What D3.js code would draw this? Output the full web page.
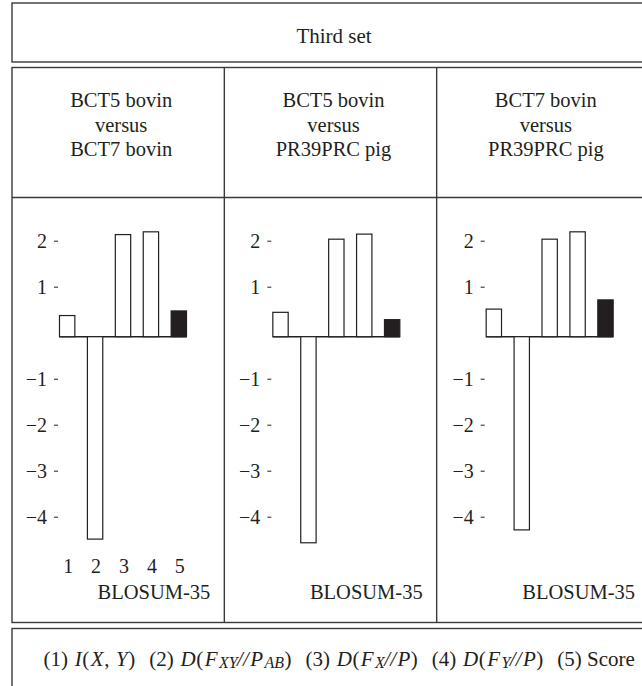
<!DOCTYPE html>
<html lang="en">
	<head>
		<meta charset="utf-8">
		<title>Third set</title>
		<script type="text/javascript" src="https://cdn.jsdelivr.net/npm/d3@7"></script>
		<style type="text/css">
			body { margin: 0; background: #fff; }
			.frame { fill: none; stroke: #3a3a3a; stroke-width: 1.4; }
			.axis path { display: none; }
			.axis line { stroke: #231f20; stroke-width: 1; }
		</style>
	</head>
	<body>
		<script type="text/javascript">

			// data
			var title = "Third set";
			var pairTitles = [
				["BCT5 bovin", "versus", "BCT7 bovin"],
				["BCT5 bovin", "versus", "PR39PRC pig"],
				["BCT7 bovin", "versus", "PR39PRC pig"]
			];
			var matrixName = "BLOSUM-35";
			var measures = ["1", "2", "3", "4", "5"];
			var valuesPair1 = [0.46, -4.40, 2.22, 2.28, 0.56];
			var valuesPair2 = [0.53, -4.48, 2.12, 2.23, 0.37];
			var valuesPair3 = [0.60, -4.20, 2.12, 2.28, 0.80];
			var yTicks = [-4, -3, -2, -1, 1, 2];
			var allValues = [valuesPair1, valuesPair2, valuesPair3];

			var serif = "'Liberation Serif', 'Times New Roman', Times, 'DejaVu Serif', serif";
			var ink = "#231f20";
			var fs = "20.5px";

			var w = 642;
			var h = 686;
			var left = 12;        // left border of the table
			var right = 649;      // table runs a little past the picture
			var colW = (right - left) / 3;

			var svg = d3.select("body")
						.append("svg")
						.attr("width", w)
						.attr("height", h);

			// boxes of the table
			svg.append("rect").attr("class", "frame")
				.attr("x", left).attr("y", 3).attr("width", right - left).attr("height", 59);
			svg.append("rect").attr("class", "frame")
				.attr("x", left).attr("y", 67.5).attr("width", right - left).attr("height", 555);
			svg.append("rect").attr("class", "frame")
				.attr("x", left).attr("y", 628.5).attr("width", right - left).attr("height", 80);
			svg.append("line").attr("class", "frame")
				.attr("x1", left).attr("x2", right).attr("y1", 197.5).attr("y2", 197.5);
			[1, 2].forEach(function(i){
				svg.append("line").attr("class", "frame")
					.attr("x1", left + i * colW).attr("x2", left + i * colW)
					.attr("y1", 67.5).attr("y2", 622.5);
			});

			svg.append("text")
				.attr("x", 334).attr("y", 42.5)
				.attr("text-anchor", "middle")
				.style("font-family", serif)
				.style("fill", ink)
				.style("font-size", "21px")
				.text(title);

			// one shared y scale: zero sits on the bar baseline
			var yScale = d3.scaleLinear()
							.domain([-5, 3])
							.range([336.7 + 5 * 46, 336.7 - 3 * 46]);

			allValues.forEach(function(vals, p){
				var x0 = left + p * colW;

				// pair title
				var head = svg.append("text")
					.attr("text-anchor", "middle")
					.style("font-family", serif)
					.style("fill", ink)
					.style("font-size", fs);
				head.selectAll("tspan")
					.data(pairTitles[p])
					.enter()
					.append("tspan")
					.attr("x", x0 + colW / 2 + 3)
					.attr("y", function(d, i){ return 107 + i * 24.5; })
					.text(function(d){ return d; });

				var xScale = d3.scaleBand()
								.domain(measures)
								.range([x0 + 47.5 + p, x0 + 174.5 + p])
								.paddingInner(0.45)
								.paddingOuter(0);

				var g = svg.append("g");

				// baseline
				g.append("line")
					.attr("x1", xScale.range()[0]).attr("x2", xScale.range()[1])
					.attr("y1", yScale(0)).attr("y2", yScale(0))
					.style("stroke", ink).style("stroke-width", 1.5);

				g.selectAll("rect")
					.data(vals)
					.enter()
					.append("rect")
					.attr("x", function(d, i){ return xScale(measures[i]); })
					.attr("y", function(d){ return yScale(Math.max(0, d)); })
					.attr("width", xScale.bandwidth())
					.attr("height", function(d){ return Math.abs(yScale(d) - yScale(0)); })
					.style("fill", function(d, i){ return i == 4 ? ink : "#fff"; })
					.style("stroke", ink)
					.style("stroke-width", 1.2);

				var yAxis = d3.axisLeft()
								.scale(yScale)
								.tickValues(yTicks)
								.tickSize(4)
								.tickPadding(7)
								.tickFormat(function(d){ return d < 0 ? "\u2212" + (-d) : d; });

				svg.append("g")
					.attr("class", "axis")
					.attr("transform", "translate(" + (x0 + 46 + p) + ",-4)")
					.call(yAxis)
					.selectAll("text")
					.style("font-family", serif)
					.style("font-size", "20px")
					.style("fill", ink);

				// category numbers only under the first pair
				if (p == 0) {
					svg.selectAll("text.cat")
						.data(measures)
						.enter()
						.append("text")
						.attr("class", "cat")
						.attr("x", function(d){ return xScale(d) + xScale.bandwidth() / 2 + 1; })
						.attr("y", 572.5)
						.attr("text-anchor", "middle")
						.style("font-family", serif)
						.style("fill", ink)
						.style("font-size", "20px")
						.text(function(d){ return d; });
				}

				svg.append("text")
					.attr("x", x0 + colW - 14)
					.attr("y", 599)
					.attr("text-anchor", "end")
					.style("font-family", serif)
					.style("fill", ink)
					.style("font-size", fs)
					.text(matrixName);
			});

			// legend line with italic math and small subscripts; "g" marks a gap between items
			var legendParts = [
				["(1) ", "n"], ["I", "i"], ["(", "n"], ["X", "i"], [", ", "n"], ["Y", "i"], [")", "n"], ["(2) ", "g"],
				["D", "i"], ["(", "n"], ["F", "i"], ["XY", "s"], ["//", "i"], ["P", "i"], ["AB", "s"], [")", "n"], ["(3) ", "g"],
				["D", "i"], ["(", "n"], ["F", "i"], ["X", "s"], ["//", "i"], ["P", "i"], [")", "n"], ["(4) ", "g"],
				["D", "i"], ["(", "n"], ["F", "i"], ["Y", "s"], ["//", "i"], ["P", "i"], [")", "n"], ["(5) Score", "g"]
			];

			var legend = svg.append("text")
				.attr("x", 43)
				.attr("y", 666)
				.style("font-family", serif)
				.style("fill", ink)
				.style("font-size", "21px")
				.style("white-space", "pre");

			legend.selectAll("tspan")
				.data(legendParts)
				.enter()
				.append("tspan")
				.attr("dx", function(d){
					if (d[1] == "g") return 14;
					if (d[0] == "//") return -0.5;
					if (d[1] == "i" || d[1] == "s") return 1.4;
					return 0.6;
				})
				.attr("dy", function(d, i){
					if (d[1] == "s") return 2;
					if (i > 0 && legendParts[i - 1][1] == "s") return -2;
					return 0;
				})
				.style("font-style", function(d){ return d[1] == "i" || d[1] == "s" ? "italic" : "normal"; })
				.style("font-size", function(d){ return d[1] == "s" ? "16px" : "21px"; })
				.text(function(d){ return d[0]; });

		</script>
	</body>
</html>
